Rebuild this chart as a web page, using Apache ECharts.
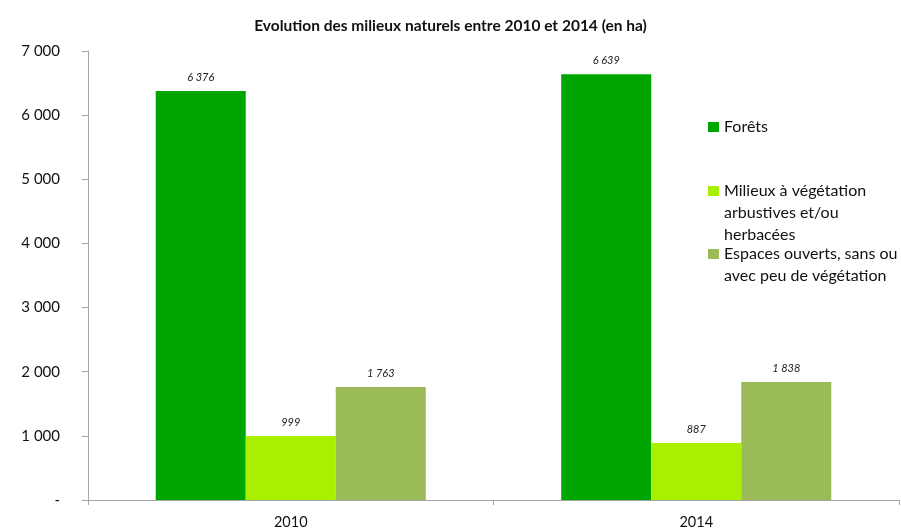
<!DOCTYPE html>
<html>
<head>
<meta charset="utf-8">
<script src="https://cdn.jsdelivr.net/npm/echarts@6/dist/echarts.min.js"></script>
<style>
  html, body { margin: 0; padding: 0; background: #fff; }
  #chart { width: 901px; height: 530px; }
</style>
</head>
<body>
<div id="chart"></div>
<script>
const years = ['2010', '2014'];
const seriesNames = [
  'Forêts',
  'Milieux à végétation\narbustives et/ou\nherbacées',
  'Espaces ouverts, sans ou\navec peu de végétation'
];
const forets = [6376, 6639];
const milieux = [999, 887];
const espaces = [1763, 1838];
const colors = ['#00a600', '#a8f000', '#9bbb59'];

const font = 'Lato, "Open Sans", sans-serif';

function fmt(v) {
  if (v === 0) return '-';
  return String(v).replace(/\B(?=(\d{3})+(?!\d))/g, ' ');
}

const chart = echarts.init(document.getElementById('chart'));

// legend text is centred on its icon, so pad with blank lines above
// to keep the icon level with the first line
function legendAt(name, top, lines) {
  return {
    data: [name],
    left: 708,
    top: top,
    padding: 0,
    orient: 'vertical',
    itemWidth: 11,
    itemHeight: 10,
    itemGap: 0,
    icon: 'rect',
    selectedMode: false,
    formatter: n => '\n'.repeat(lines - 1) + n,
    textStyle: {
      fontFamily: font,
      fontSize: 16,
      color: '#111',
      lineHeight: 22
    }
  };
}

const labelOpt = {
  show: true,
  position: 'top',
  distance: 8,
  fontFamily: font,
  fontStyle: 'italic',
  fontSize: 11,
  color: '#222',
  formatter: p => fmt(p.value)
};

const data = [forets, milieux, espaces];

chart.setOption({
  animation: false,
  title: {
    text: 'Evolution des milieux naturels entre 2010 et 2014 (en ha)',
    left: 'center',
    top: 18,
    padding: [0, 0, 0, 17],
    textStyle: { fontFamily: font, fontSize: 15.5, fontWeight: 'bold', color: '#111' }
  },
  legend: [
    legendAt(seriesNames[0], 116, 1),
    legendAt(seriesNames[1], 136, 3),
    legendAt(seriesNames[2], 221, 2)
  ],
  grid: { left: 88, right: 2, top: 51, bottom: 30, containLabel: false },
  xAxis: {
    type: 'category',
    data: years,
    axisLine: { lineStyle: { color: '#a6a6a6' } },
    axisTick: { show: true, length: 5, lineStyle: { color: '#a6a6a6' } },
    axisLabel: { fontFamily: font, fontSize: 14.5, color: '#111', margin: 15 }
  },
  yAxis: {
    type: 'value',
    min: 0,
    max: 7000,
    interval: 1000,
    axisLine: { show: true, lineStyle: { color: '#a6a6a6' } },
    axisTick: { show: true, length: 6, lineStyle: { color: '#a6a6a6' } },
    splitLine: { show: false },
    axisLabel: {
      fontFamily: font, fontSize: 15, color: '#111', margin: 28,
      formatter: v => fmt(v)
    }
  },
  series: seriesNames.map((n, i) => ({
    name: n,
    type: 'bar',
    data: data[i],
    barGap: '0%',
    barCategoryGap: '33.4%',
    itemStyle: { color: colors[i] },
    label: labelOpt
  }))
});
</script>
</body>
</html>
